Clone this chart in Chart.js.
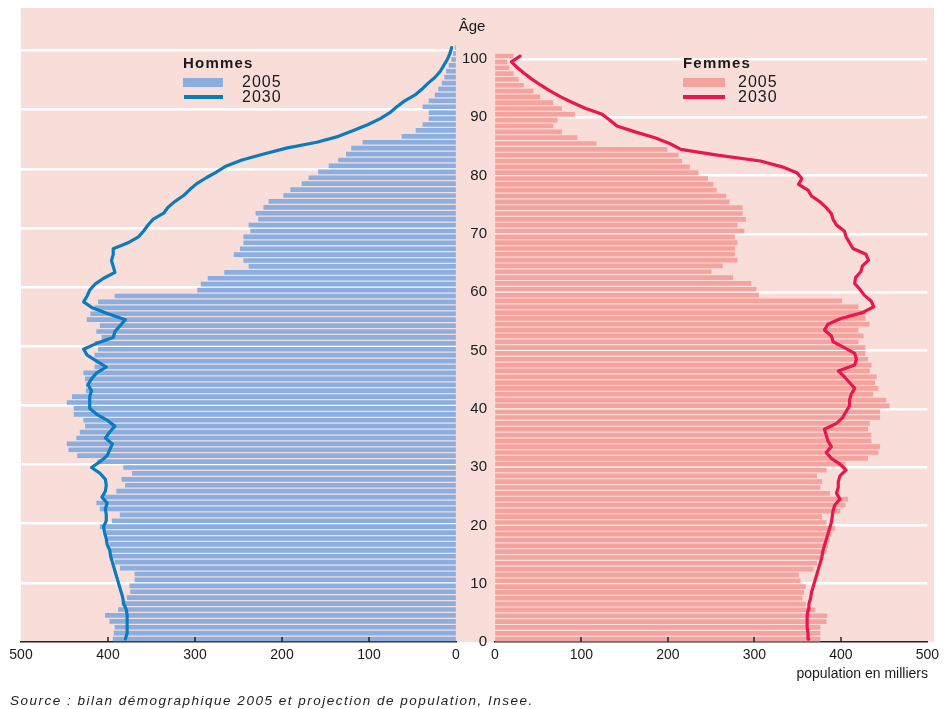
<!DOCTYPE html>
<html><head><meta charset="utf-8">
<script src="https://cdn.jsdelivr.net/npm/chart.js@4/dist/chart.umd.min.js"></script>
<style>
body{margin:0;width:944px;height:709px;background:#fff;position:relative;overflow:hidden;font-family:"Liberation Sans",Arial,sans-serif;}
#bg{position:absolute;left:21px;top:8px;width:913px;height:634px;background:#f9ddd8;}
#lw{position:absolute;left:0;top:0;width:470px;height:709px;}
#rw{position:absolute;left:456px;top:0;width:488px;height:709px;}
.t{position:absolute;white-space:nowrap;color:#1a1a1a;line-height:1;}
.sw{position:absolute;}
</style></head>
<body>
<div id="bg"></div>
<div id="lw"><canvas id="cl" width="470" height="709"></canvas></div>
<div id="rw"><canvas id="cr" width="488" height="709"></canvas></div>

<div class="t" style="left:472px;top:18px;font-size:15px;transform:translateX(-50%);">Âge</div>

<div class="t" style="left:183px;top:55px;font-size:15px;font-weight:bold;letter-spacing:1.2px;">Hommes</div>
<div class="sw" style="left:183px;top:78px;width:40px;height:9px;background:#8aaee0;"></div>
<div class="t" style="left:242px;top:74px;font-size:16px;letter-spacing:1px;">2005</div>
<div class="sw" style="left:184px;top:95px;width:39px;height:3.5px;background:#0b7bc0;"></div>
<div class="t" style="left:242px;top:89px;font-size:16px;letter-spacing:1px;">2030</div>

<div class="t" style="left:683px;top:55px;font-size:15px;font-weight:bold;letter-spacing:1.2px;">Femmes</div>
<div class="sw" style="left:683px;top:78px;width:42px;height:9px;background:#f5a39e;"></div>
<div class="t" style="left:738px;top:74px;font-size:16px;letter-spacing:1px;">2005</div>
<div class="sw" style="left:683px;top:95px;width:42px;height:3.5px;background:#e8174d;"></div>
<div class="t" style="left:738px;top:89px;font-size:16px;letter-spacing:1px;">2030</div>

<div class="t" style="right:16px;top:666px;font-size:14px;">population en milliers</div>
<div class="t" style="left:10px;top:694px;font-size:13.5px;font-style:italic;letter-spacing:1.5px;color:#222;">Source : bilan démographique 2005 et projection de population, Insee.</div>

<script>
// Ages (categories)
const ages = [0,1,2,3,4,5,6,7,8,9,10,11,12,13,14,15,16,17,18,19,20,21,22,23,24,25,26,27,28,29,30,31,32,33,34,35,36,37,38,39,40,41,42,43,44,45,46,47,48,49,50,51,52,53,54,55,56,57,58,59,60,61,62,63,64,65,66,67,68,69,70,71,72,73,74,75,76,77,78,79,80,81,82,83,84,85,86,87,88,89,90,91,92,93,94,95,96,97,98,99,100];

// Hommes, 2005 (population en milliers, par âge 0..100)
const hommes2005 = [394,393,392,398,403,388,384,378,374,375,
  369,369,386,392,396,397,398,400,402,409,
  395,386,409,413,405,390,380,384,372,382,
  412,435,445,447,436,432,426,428,439,439,
  447,441,425,425,426,428,415,414,415,411,
  415,407,413,409,424,420,415,411,392,297,
  293,285,266,238,244,255,248,244,244,236,
  238,227,230,221,215,198,190,177,169,158,
  146,135,126,120,107,62,46,38,31,31,
  38,31,24,20,16,13,11,8,5,3,1];

// Hommes, 2030
const hommes2030 = [380,378,378,378,378,379,382,383,385,387,
  389,391,393,395,397,398,401,402,404,405,
  402,402,403,401,407,403,402,403,409,419,
  409,401,398,395,403,398,392,401,413,421,
  421,421,419,423,419,413,402,413,424,428,
  413,394,392,386,380,400,418,428,424,421,
  415,405,392,394,396,394,394,377,365,359,
  354,348,336,331,323,313,306,298,287,275,
  264,246,221,195,160,135,118,101,87,76,
  68,59,47,39,32,24,18,14,10,7,5];

// Femmes, 2005
const femmes2005 = [376,376,376,383,384,370,359,355,357,359,
  353,351,368,372,376,383,385,387,389,393,
  383,378,399,405,408,387,376,378,372,383,
  405,431,443,445,435,435,431,433,445,445,
  456,452,437,443,439,441,433,435,431,428,
  428,420,426,420,433,428,428,420,401,305,
  302,296,275,250,263,280,277,277,280,277,
  288,280,290,286,286,271,267,256,252,246,
  235,225,216,212,199,117,95,77,67,72,
  92,77,67,52,44,33,27,21,16,14,21];

// Femmes, 2030
const femmes2030 = [363,362,361,361,361,362,363,365,366,368,
  370,372,374,376,378,379,381,383,385,387,
  389,390,391,393,399,395,397,397,399,406,
  399,389,383,389,385,383,381,395,402,406,
  410,410,412,416,410,404,397,416,418,416,
  404,391,389,381,385,400,425,438,435,427,
  422,416,417,423,425,432,429,414,410,406,
  404,395,391,389,383,376,366,362,351,355,
  349,332,307,257,215,202,185,162,141,133,
  124,105,90,76,64,53,43,34,26,19,29];

// Tick labels
const xTicks = [0,100,200,300,400,500];
const ageTicks = [0,10,20,30,40,50,60,70,80,90,100];

const pts = vals => ages.map((a,i)=>({x: vals[i], y: a + 0.5}));

const tickFont = {family:'"Liberation Sans Narrow","Liberation Sans",Arial,sans-serif', size:14};

const innerTicks = {
  id:'innerTicks',
  afterDraw(chart){
    const s = chart.scales.x, ctx = chart.ctx, b = chart.chartArea.bottom;
    ctx.save(); ctx.strokeStyle='#222'; ctx.lineWidth=1.5;
    xTicks.forEach(v=>{ if(v===0||v===500) return; const px = Math.round(s.getPixelForValue(v));
      ctx.beginPath(); ctx.moveTo(px,b-5); ctx.lineTo(px,b); ctx.stroke(); });
    ctx.restore();
  }
};

function makeChart(id, v2005, v2030, barColor, lineColor, left){
  return new Chart(document.getElementById(id), {
    type:'bar',
    data:{datasets:[
      {type:'line', label:'2030', data: pts(v2030), borderColor: lineColor, borderWidth:3.2, pointRadius:0, tension:0, order:0, borderJoinStyle:'round', borderCapStyle:'round'},
      {type:'bar', label:'2005', data: pts(v2005), backgroundColor: barColor, barThickness:4, borderWidth:0, order:1}
    ]},
    options:{
      indexAxis:'y', responsive:false, animation:false,
      layout:{padding: left ? {left:21,right:14,top:8,bottom:0} : {left:0,right:12,top:8,bottom:0}},
      plugins:{legend:{display:false}, tooltip:{enabled:false}},
      scales:{
        x:{type:'linear', reverse:left, min:0, max:500, offset:false,
           afterBuildTicks: s=>{ s.ticks = xTicks.map(v=>({value:v})); },
           ticks:{color:'#1a1a1a', font:tickFont, padding:5, maxRotation:0, autoSkip:false},
           grid:{display:true, drawOnChartArea:false, drawTicks:false, offset:false},
           border:{display:true, color:'#222', width:1.5},
           afterFit: s=>{ s.height = 67; }},
        y:{type:'linear', min:0, max:107.2, position:'left', offset:false,
           afterBuildTicks: s=>{ s.ticks = ageTicks.map(v=>({value:v})); },
           ticks:{display: !left, color:'#1a1a1a', font:{family:'"Liberation Sans",Arial,sans-serif', size:15}, padding:8, autoSkip:false},
           grid:{color: c => (c.tick && c.tick.value===0) ? 'rgba(0,0,0,0)' : '#ffffff', lineWidth:2.5, drawTicks:false, offset:false},
           border:{display:false},
           afterFit: s=>{ s.width = left ? 0 : 39; }}
      }
    },
    plugins:[innerTicks]
  });
}

makeChart('cl', hommes2005, hommes2030, '#8aaee0', '#0b7bc0', true);
makeChart('cr', femmes2005, femmes2030, '#f5a39e', '#e8174d', false);
</script>
</body></html>
